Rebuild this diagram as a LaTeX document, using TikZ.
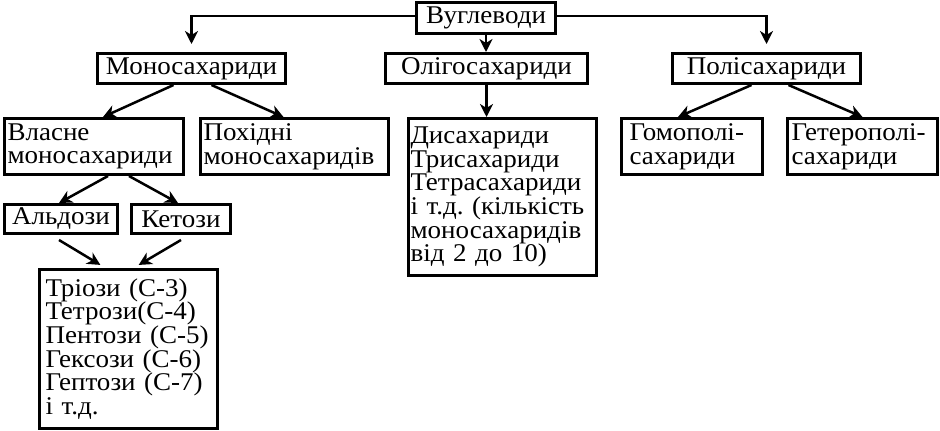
\documentclass[tikz,border=0pt]{standalone}
\usepackage{fontspec}
\setmainfont{Liberation Serif}[FakeStretch=1.06]
\usetikzlibrary{arrows.meta}
\begin{document}
\frenchspacing
\begin{tikzpicture}[x=1pt,y=-1pt,
  box/.style={draw, line width=3pt, anchor=north west, inner ysep=0pt,
    font=\fontsize{25.5}{23.7}\selectfont},
  one/.style={box, align=center, inner xsep=0pt},
  multi/.style={box, align=left},
  conn/.style={line width=2.5pt, -{Stealth[length=13pt,width=13pt,inset=4pt]}}]
\useasboundingbox (0,0) rectangle (940,431);
% level 0
\node[one, minimum width=139pt, minimum height=31pt] (carb) at (415,1) {Вуглеводи};
% level 1
\node[one, minimum width=188pt, minimum height=30pt] (mono) at (96,52) {Моносахариди};
\node[one, minimum width=202pt, minimum height=30pt] (oligo) at (384,52) {Олігосахариди};
\node[one, minimum width=188pt, minimum height=30pt] (poly) at (671,52) {Полісахариди};
% level 2
\node[multi, minimum width=179pt, text width=173pt, inner xsep=3pt, minimum height=56pt] (vlasne) at (3,117) {Власне\\моносахариди};
\node[multi, minimum width=188pt, text width=182pt, inner xsep=3pt, minimum height=56pt] (pokh) at (199,117) {Похідні\\моносахаридів};
\node[multi, minimum width=188pt, text width=184pt, inner xsep=2pt, minimum height=157pt] (di) at (407,117) {Дисахариди\\Трисахариди\\Тетрасахариди\\і т.д. (кількість\\моносахаридів\\від 2 до 10)};
\node[multi, minimum width=141pt, text width=125pt, inner xsep=8pt, minimum height=56pt] (homo) at (620,117) {Гомополі-\\сахариди};
\node[multi, minimum width=150pt, text width=142pt, inner xsep=4pt, minimum height=56pt] (hetero) at (786,117) {Гетерополі-\\сахариди};
% level 3
\node[one, minimum width=113pt, minimum height=29pt] (aldo) at (3,203) {Альдози};
\node[one, minimum width=99pt, minimum height=29pt] (keto) at (130,203) {Кетози};
% level 4
\node[multi, minimum width=178pt, text width=166pt, inner xsep=6pt, minimum height=159pt] (list) at (38,268) {Тріози (С-3)\\Тетрози(С-4)\\Пентози (С-5)\\Гексози (С-6)\\Гептози (С-7)\\і т.д.};
% connectors
\draw[conn, shorten >=8pt] ([yshift=2pt]carb.west) -| (mono.north);
\draw[conn, shorten >=8pt] ([yshift=2pt]carb.east) -| (poly.north);
\draw[conn] (carb.south) -- (carb.south |- oligo.north);
\draw[conn] (oligo.south) -- (oligo.south |- di.north);
\draw[conn] ([xshift=-18pt]mono.south) -- ([xshift=9pt]vlasne.north);
\draw[conn] ([xshift=20pt]mono.south) -- ([xshift=-11pt]pokh.north);
\draw[conn] ([xshift=-15pt]poly.south) -- ([xshift=-14pt]homo.north);
\draw[conn] ([xshift=22pt]poly.south) -- ([xshift=0pt]hetero.north);
\draw[conn] ([xshift=14pt]vlasne.south) -- ([xshift=-2pt]aldo.north);
\draw[conn] ([xshift=35pt]vlasne.south) -- ([xshift=-3pt]keto.north);
\draw[conn, shorten >=6pt] ([xshift=-2pt,yshift=-5pt]aldo.south) -- ([xshift=-23pt]list.north);
\draw[conn, shorten >=6pt] ([xshift=0pt,yshift=-5pt]keto.south) -- ([xshift=5pt]list.north);
\end{tikzpicture}
\end{document}
